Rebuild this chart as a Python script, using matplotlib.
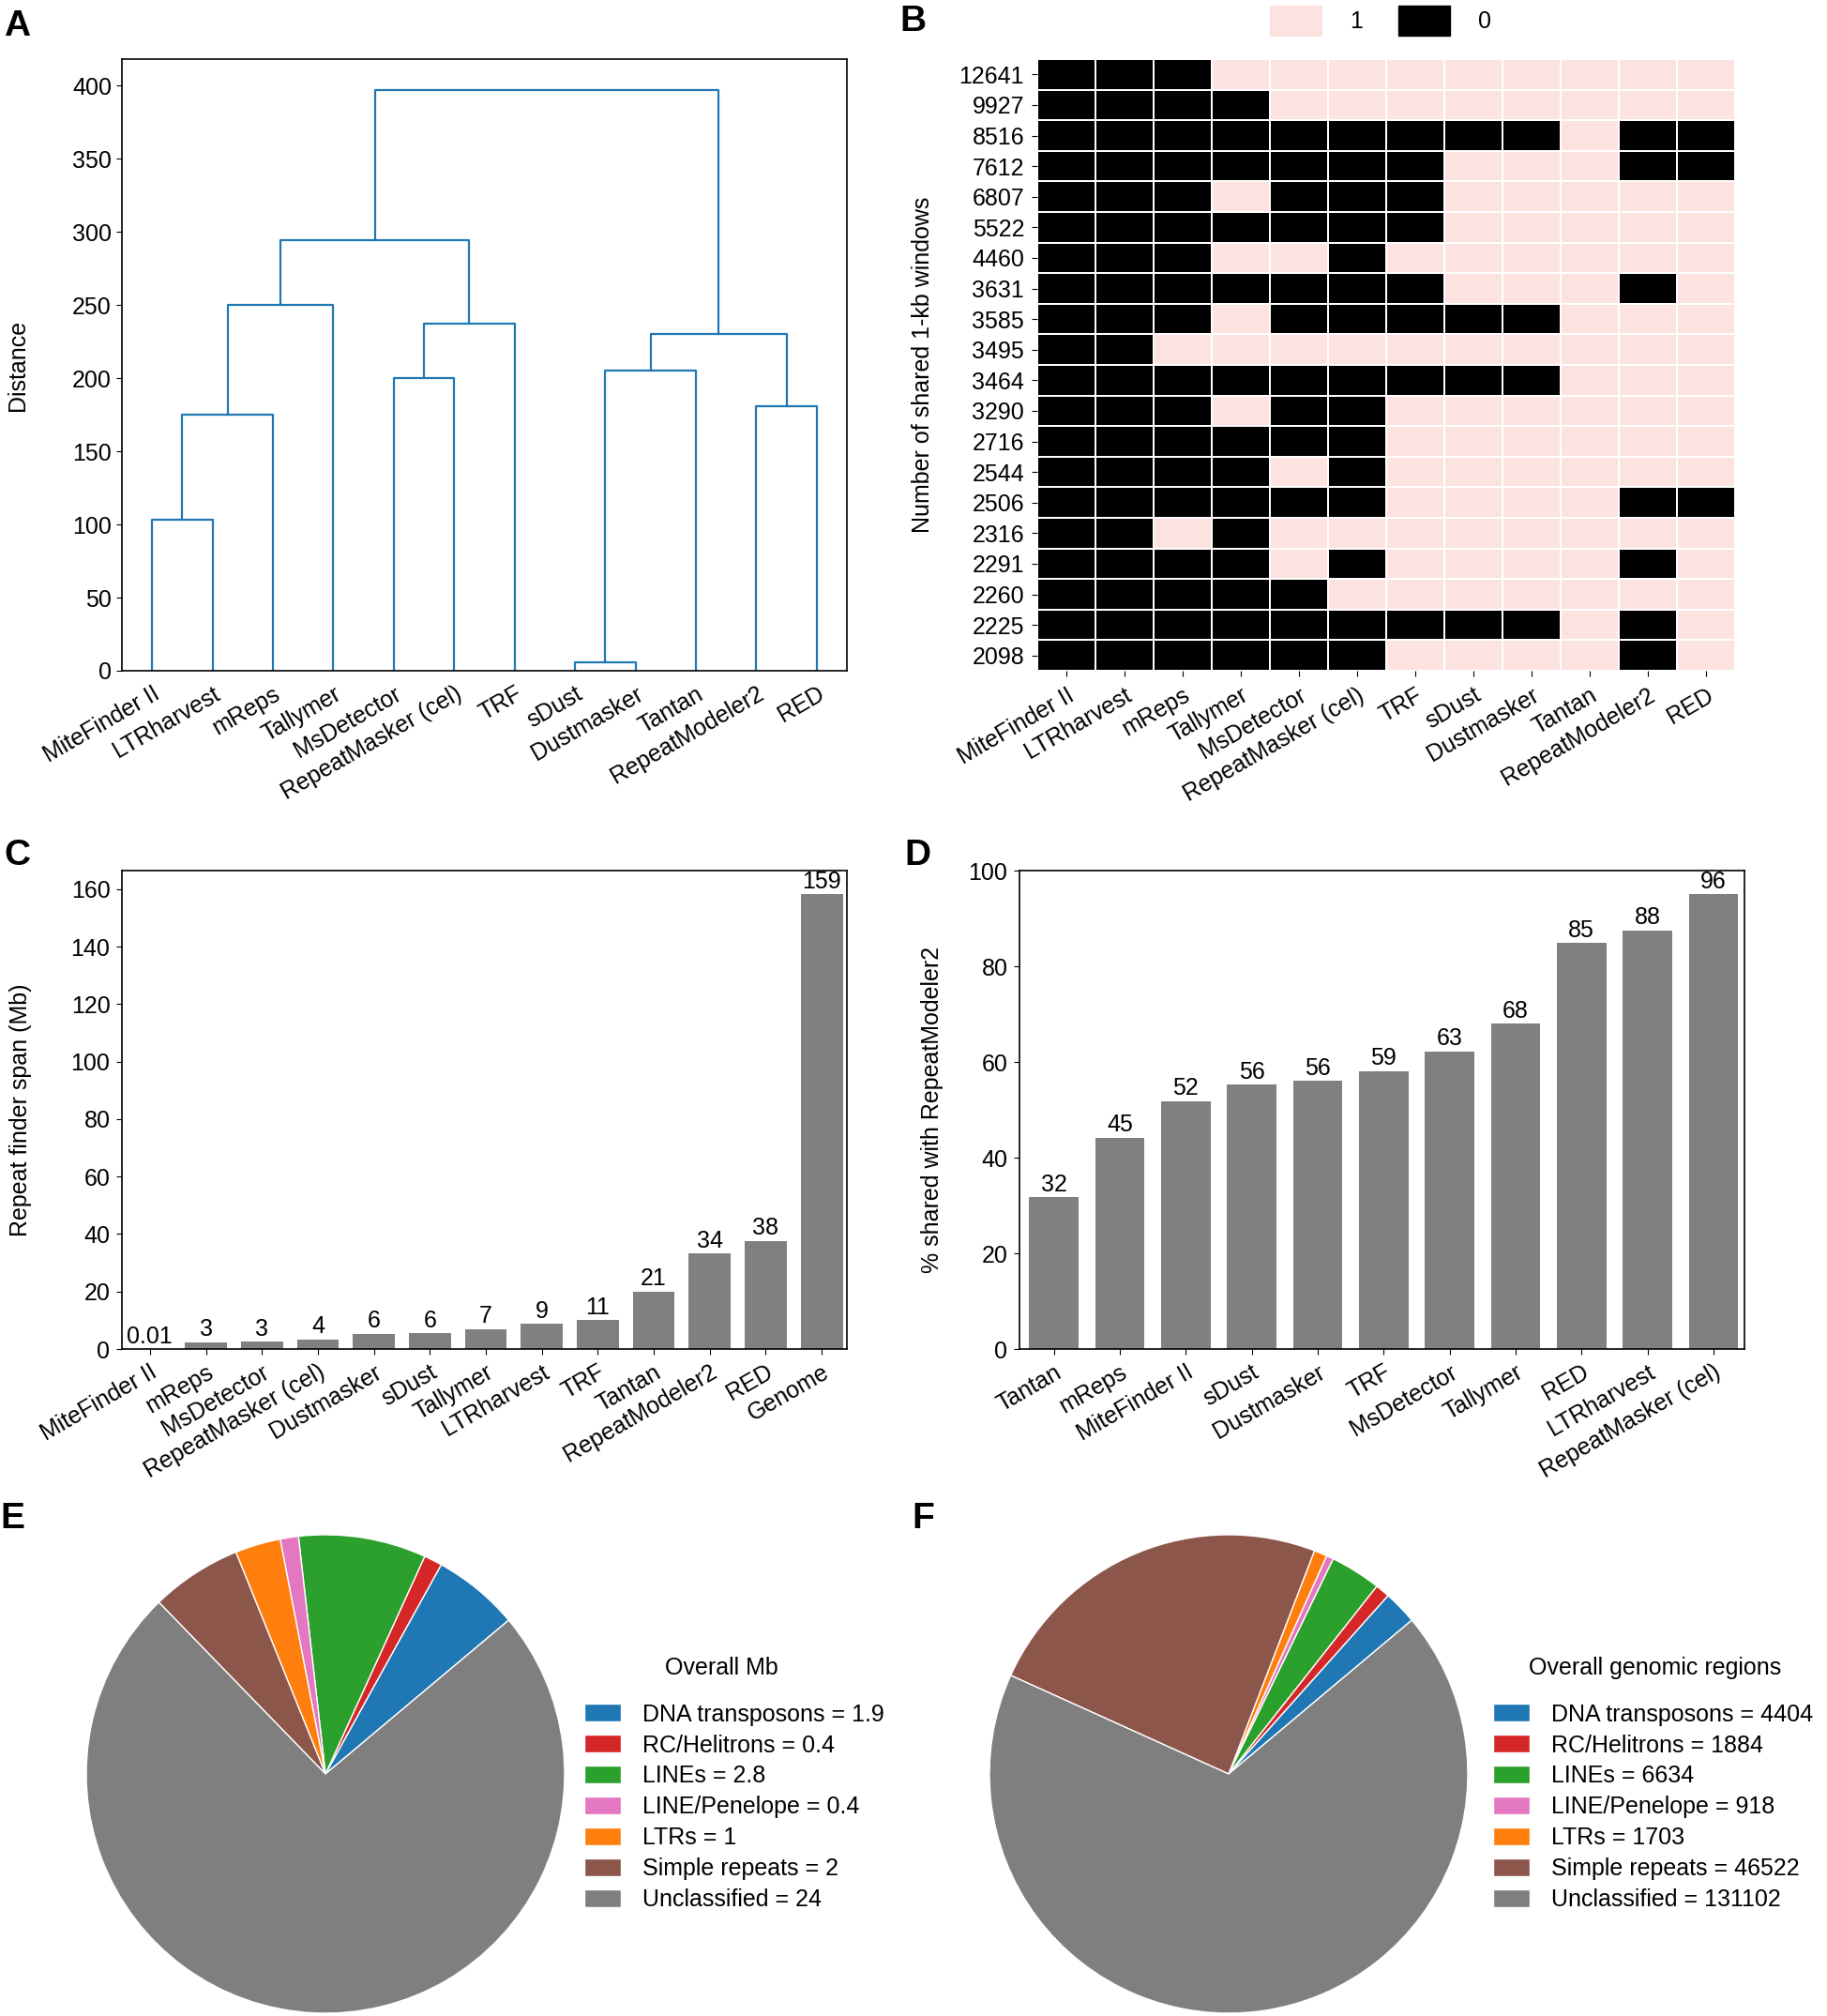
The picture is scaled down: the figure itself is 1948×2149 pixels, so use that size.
import matplotlib
matplotlib.use('Agg')
import matplotlib.pyplot as plt
import numpy as np
from matplotlib.colors import ListedColormap
from matplotlib.patches import Patch

plt.rcParams['font.family'] = ['Liberation Sans', 'DejaVu Sans']
plt.rcParams['font.size'] = 18
plt.rcParams['axes.linewidth'] = 1.2

W, H = 1949, 2149

# ---- data -------------------------------------------------------------
tools = ['MiteFinder II', 'LTRharvest', 'mReps', 'Tallymer', 'MsDetector',
         'RepeatMasker (cel)', 'TRF', 'sDust', 'Dustmasker', 'Tantan',
         'RepeatModeler2', 'RED']

# dendrogram merges: (left node, right node, distance); new nodes get ids 12, 13, ...
merges = [(0, 1, 103), (12, 2, 175), (13, 3, 250), (4, 5, 200), (15, 6, 237),
          (14, 16, 294), (7, 8, 6), (18, 9, 205), (10, 11, 181), (19, 20, 230),
          (17, 21, 397)]

window_counts = ['12641', '9927', '8516', '7612', '6807', '5522', '4460', '3631',
                 '3585', '3495', '3464', '3290', '2716', '2544', '2506', '2316',
                 '2291', '2260', '2225', '2098']
shared = [
    [0, 0, 0, 1, 1, 1, 1, 1, 1, 1, 1, 1],
    [0, 0, 0, 0, 1, 1, 1, 1, 1, 1, 1, 1],
    [0, 0, 0, 0, 0, 0, 0, 0, 0, 1, 0, 0],
    [0, 0, 0, 0, 0, 0, 0, 1, 1, 1, 0, 0],
    [0, 0, 0, 1, 0, 0, 0, 1, 1, 1, 1, 1],
    [0, 0, 0, 0, 0, 0, 0, 1, 1, 1, 1, 1],
    [0, 0, 0, 1, 1, 0, 1, 1, 1, 1, 1, 1],
    [0, 0, 0, 0, 0, 0, 0, 1, 1, 1, 0, 1],
    [0, 0, 0, 1, 0, 0, 0, 0, 0, 1, 1, 1],
    [0, 0, 1, 1, 1, 1, 1, 1, 1, 1, 1, 1],
    [0, 0, 0, 0, 0, 0, 0, 0, 0, 1, 1, 1],
    [0, 0, 0, 1, 0, 0, 1, 1, 1, 1, 1, 1],
    [0, 0, 0, 0, 0, 0, 1, 1, 1, 1, 1, 1],
    [0, 0, 0, 0, 1, 0, 1, 1, 1, 1, 1, 1],
    [0, 0, 0, 0, 0, 0, 1, 1, 1, 1, 0, 0],
    [0, 0, 1, 0, 1, 1, 1, 1, 1, 1, 1, 1],
    [0, 0, 0, 0, 1, 0, 1, 1, 1, 1, 0, 1],
    [0, 0, 0, 0, 0, 1, 1, 1, 1, 1, 1, 1],
    [0, 0, 0, 0, 0, 0, 0, 0, 0, 1, 0, 1],
    [0, 0, 0, 0, 0, 0, 1, 1, 1, 1, 0, 1],
]

span_tools = ['MiteFinder II', 'mReps', 'MsDetector', 'RepeatMasker (cel)',
              'Dustmasker', 'sDust', 'Tallymer', 'LTRharvest', 'TRF', 'Tantan',
              'RepeatModeler2', 'RED', 'Genome']
span_mb = [0.01, 2.4, 2.5, 3.4, 5.3, 5.5, 6.9, 8.8, 10.1, 20.0, 33.3, 37.6, 158.3]
span_labels = ['0.01', '3', '3', '4', '6', '6', '7', '9', '11', '21', '34', '38', '159']

pct_tools = ['Tantan', 'mReps', 'MiteFinder II', 'sDust', 'Dustmasker', 'TRF',
             'MsDetector', 'Tallymer', 'RED', 'LTRharvest', 'RepeatMasker (cel)']
pct_shared = [31.7, 44.2, 51.8, 55.2, 56.0, 58.1, 62.2, 68.0, 84.9, 87.5, 95.1]
pct_labels = ['32', '45', '52', '56', '56', '59', '63', '68', '85', '88', '96']

repeat_classes = ['DNA transposons', 'RC/Helitrons', 'LINEs', 'LINE/Penelope',
                  'LTRs', 'Simple repeats', 'Unclassified']
overall_mb = [1.9, 0.4, 2.8, 0.4, 1, 2, 24]
overall_regions = [4404, 1884, 6634, 918, 1703, 46522, 131102]
class_colors = ['#1f77b4', '#d62728', '#2ca02c', '#e377c2', '#ff7f0e',
                '#8c564b', '#7f7f7f']


def box(left, top, right, bottom):
    '''pixel box -> figure fraction rect'''
    return [left / W, 1 - bottom / H, (right - left) / W, (bottom - top) / H]


fig = plt.figure(figsize=(W / 100, H / 100), dpi=100)

# ---- A: dendrogram ----------------------------------------------------
ax = fig.add_axes(box(130, 63, 903, 715))
xs = list(range(len(tools)))
ys = [0] * len(tools)
for a, b, h in merges:
    ax.plot([xs[a], xs[a], xs[b], xs[b]], [ys[a], h, h, ys[b]],
            color='#1f77b4', lw=1.6)
    xs.append((xs[a] + xs[b]) / 2)
    ys.append(h)
ax.set_xlim(-0.5, len(tools) - 0.5)
ax.set_ylim(0, 418)
ax.set_yticks(range(0, 401, 50))
ax.set_xticks(range(len(tools)))
ax.set_xticklabels(tools, rotation=30, ha='right', rotation_mode='anchor')
ax.tick_params(axis='x', length=0, pad=9)
ax.tick_params(axis='y', length=4, pad=4)
ax.set_ylabel('Distance')
ax.yaxis.set_label_coords(-0.128, 0.5)

# ---- B: shared windows heatmap ---------------------------------------
ax = fig.add_axes(box(1106, 63, 1850, 715))
pink = '#fde3e0'
ax.pcolormesh(np.array(shared), cmap=ListedColormap(['black', pink]),
              vmin=0, vmax=1, edgecolors='white', linewidth=1.2)
ax.set_xlim(0, len(tools))
ax.set_ylim(len(window_counts), 0)
ax.set_xticks(np.arange(len(tools)) + 0.5)
ax.set_xticklabels(tools, rotation=30, ha='right', rotation_mode='anchor')
ax.set_yticks(np.arange(len(window_counts)) + 0.5)
ax.set_yticklabels(window_counts)
ax.tick_params(length=4, pad=6)
for s in ax.spines.values():
    s.set_visible(False)
ax.set_ylabel('Number of shared 1-kb windows')
ax.yaxis.set_label_coords(-0.148, 0.5)
fig.legend(handles=[Patch(color=pink), Patch(color='black')], labels=['1', '0'],
           ncol=2, frameon=False, loc='upper left',
           bbox_to_anchor=(1332 / W, 1 + 17 / H), handlelength=2.2,
           handleheight=1.6, handletextpad=1.2, columnspacing=1.5, fontsize=18)

# ---- C: repeat finder span -------------------------------------------
ax = fig.add_axes(box(130, 928, 903, 1438))
pos = np.arange(len(span_tools))
bars = ax.bar(pos, span_mb, width=0.75, color='grey')
for b, lab in zip(bars, span_labels):
    ax.annotate(lab, (b.get_x() + b.get_width() / 2, b.get_height()),
                xytext=(0, 1), textcoords='offset points',
                ha='center', va='bottom', fontsize=18)
ax.set_xlim(-0.5, len(span_tools) - 0.55)
ax.set_ylim(0, 166.5)
ax.set_yticks(range(0, 161, 20))
ax.set_xticks(pos)
ax.set_xticklabels(span_tools, rotation=30, ha='right', rotation_mode='anchor')
ax.tick_params(length=4, pad=5)
ax.set_ylabel('Repeat finder span (Mb)')
ax.yaxis.set_label_coords(-0.124, 0.5)

# ---- D: % shared with RepeatModeler2 ----------------------------------
ax = fig.add_axes(box(1087, 928, 1860, 1438))
pos = np.arange(len(pct_tools))
bars = ax.bar(pos, pct_shared, width=0.75, color='grey')
for b, lab in zip(bars, pct_labels):
    ax.annotate(lab, (b.get_x() + b.get_width() / 2, b.get_height()),
                xytext=(0, 1), textcoords='offset points',
                ha='center', va='bottom', fontsize=18)
ax.set_xlim(-0.52, len(pct_tools) - 0.53)
ax.set_ylim(0, 100)
ax.set_yticks(range(0, 101, 20))
ax.set_xticks(pos)
ax.set_xticklabels(pct_tools, rotation=30, ha='right', rotation_mode='anchor')
ax.tick_params(length=4, pad=5)
ax.set_ylabel('% shared with RepeatModeler2')
ax.yaxis.set_label_coords(-0.105, 0.5)

# ---- E / F: pies ------------------------------------------------------
for values, title, cx, legx, titx in [
        (overall_mb, 'Overall Mb', 347, 611, 769),
        (overall_regions, 'Overall genomic regions', 1310, 1580, 1765)]:
    ax = fig.add_axes(box(cx - 255, 1636, cx + 255, 2146))
    wedges, _ = ax.pie(values, colors=class_colors, startangle=40,
                       wedgeprops=dict(edgecolor='white', linewidth=1))
    ax.set_xlim(-1, 1)
    ax.set_ylim(-1, 1)
    labels = [f'{name} = {v:g}' for name, v in zip(repeat_classes, values)]
    fig.text(titx / W, 1 - 1778 / H, title, ha='center', va='center', fontsize=18)
    ax.legend(wedges, labels, loc='upper left',
              bbox_to_anchor=(legx / W, 1 - 1803 / H), bbox_transform=fig.transFigure,
              frameon=False, fontsize=18, borderpad=0,
              handlelength=1.55, handleheight=0.78, handletextpad=0.92,
              labelspacing=0.36)

# panel letters
for letter, x, y in [('A', 4, 10), ('B', 959, 5), ('C', 4, 894),
                     ('D', 964, 894), ('E', 0, 1601), ('F', 972, 1601)]:
    fig.text(x / W, 1 - y / H, letter, fontsize=28, fontweight='bold',
             va='top', ha='left')

fig.savefig('out.png', dpi=100)
